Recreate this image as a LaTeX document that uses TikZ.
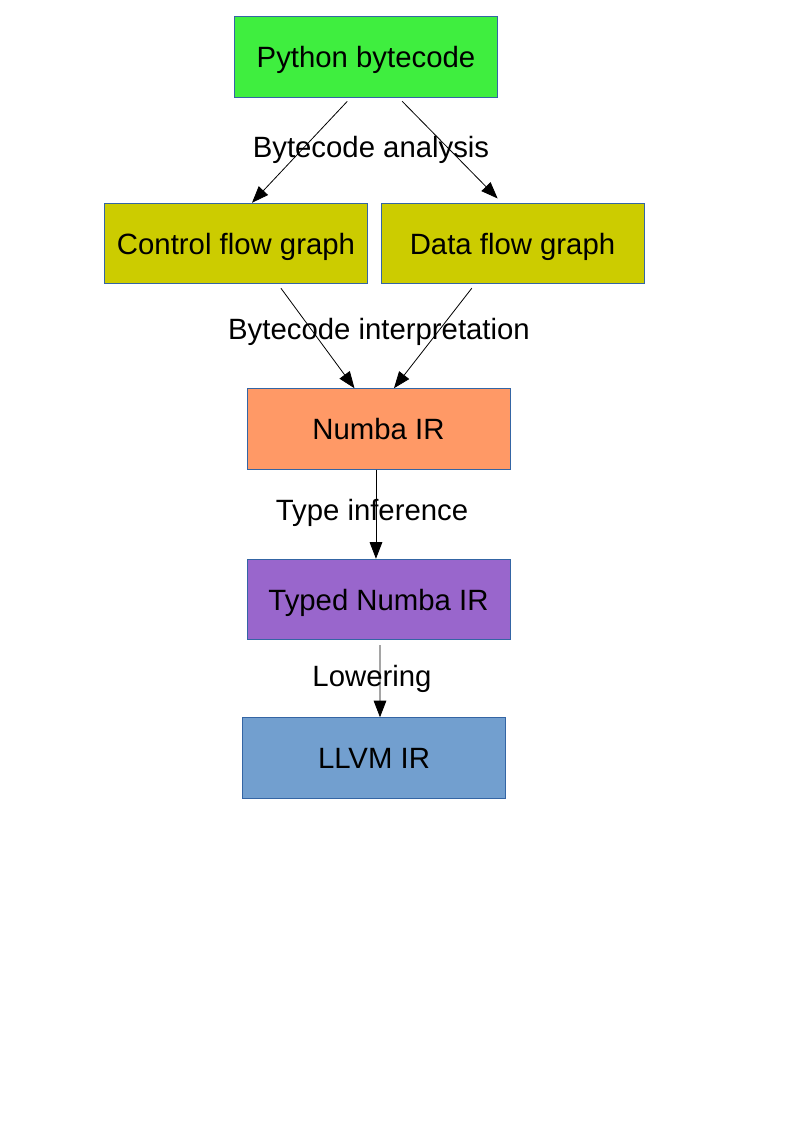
\documentclass[tikz,border=0pt]{standalone}
\usepackage{fontspec}
\setmainfont{Liberation Sans}
\usetikzlibrary{arrows.meta}
\definecolor{pybc}{HTML}{3FEE3F}
\definecolor{flow}{HTML}{CCCC00}
\definecolor{numba}{HTML}{FF9966}
\definecolor{typed}{HTML}{9966CC}
\definecolor{llvm}{HTML}{729FCF}
\definecolor{edge}{HTML}{3465A4}

\begin{document}
\begin{tikzpicture}[x=0.75pt,y=-0.75pt,
  stage/.style={draw=edge,line width=0.6pt,minimum width=197.25pt,minimum height=60.5pt,inner sep=0pt,text height=18pt,text depth=2pt,font=\fontsize{22}{26}\selectfont},
  pass/.style={inner sep=0pt,text height=18pt,text depth=2pt,font=\fontsize{22}{26}\selectfont},
  flowarrow/.style={line width=0.6pt,-{Triangle[length=12.5pt,width=9.5pt]}}]
\useasboundingbox (0,0) rectangle (794,1123);
\draw (366,57) node (py) [stage,fill=pybc] {Python bytecode};
\draw (236,243.5) node (cfg) [stage,fill=flow] {Control flow graph};
\draw (512.5,243.5) node (dfg) [stage,fill=flow] {Data flow graph};
\draw (378.5,429) node (nir) [stage,fill=numba] {Numba IR};
\draw (378.5,599.5) node (tnir) [stage,fill=typed] {Typed Numba IR};
\draw (374,758) node (ll) [stage,fill=llvm] {LLVM IR};
\draw (371,147) node (ana) [pass] {Bytecode analysis};
\draw (379,329) node (interp) [pass] {Bytecode interpretation};
\draw (372,510) node (inf) [pass] {Type inference};
\draw (372,676) node (low) [pass] {Lowering};
\draw [flowarrow,shorten <=3.75pt] ([xshift=-11.5pt]py.south) -- ([xshift=12pt]cfg.north);
\draw [flowarrow,shorten <=3.75pt,shorten >=4.5pt] ([xshift=24.5pt]py.south) -- ([xshift=-8pt]dfg.north);
\draw [flowarrow,shorten <=3.75pt] ([xshift=31.5pt]cfg.south) -- ([xshift=-18pt]nir.north);
\draw [flowarrow,shorten <=3.75pt] ([xshift=-28.2pt]dfg.south) -- ([xshift=11.6pt]nir.north);
\draw [flowarrow] ([xshift=-1.9pt]nir.south) -- ([xshift=-1.9pt]tnir.north);
\draw [flowarrow,shorten <=3.75pt] ([xshift=1.1pt]tnir.south) -- ([xshift=4.5pt]ll.north);
\end{tikzpicture}
\end{document}
